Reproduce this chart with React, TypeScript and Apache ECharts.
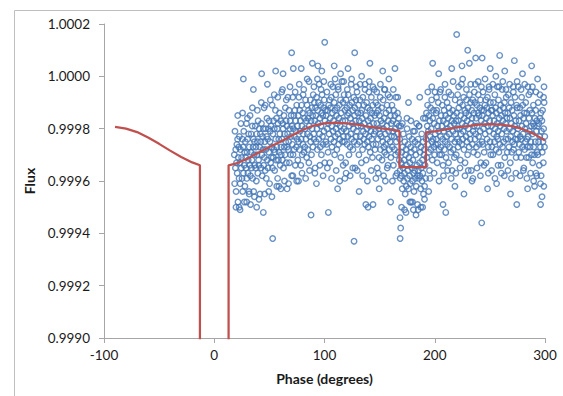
import React, { useEffect, useRef } from "react";
import * as echarts from "echarts";

// Observed phase (degrees) and relative flux
const phase = [
18.2,18.5,18.8,19.2,19.5,19.8,20.2,20.5,20.8,21.2,21.5,21.8,22.2,22.5,22.8,
23.2,23.5,23.8,24.2,24.5,24.8,25.2,25.5,25.8,26.2,26.5,26.8,27.2,27.5,27.8,
28.2,28.5,28.8,29.2,29.5,29.8,30.2,30.5,30.8,31.2,31.5,31.8,32.2,32.5,32.8,
33.2,33.5,33.8,34.2,34.5,34.8,35.2,35.5,35.8,36.2,36.5,36.8,37.2,37.5,37.8,
38.2,38.5,38.8,39.2,39.5,39.8,40.2,40.5,40.8,41.2,41.5,41.8,42.2,42.5,42.8,
43.2,43.5,43.8,44.2,44.5,44.8,45.2,45.5,45.8,46.2,46.5,46.8,47.2,47.5,47.8,
48.2,48.5,48.8,49.2,49.5,49.8,50.2,50.5,50.8,51.2,51.5,51.8,52.2,52.5,52.8,
53.2,53.5,53.8,54.2,54.5,54.8,55.2,55.5,55.8,56.2,56.5,56.8,57.2,57.5,57.8,
58.2,58.5,58.8,59.2,59.5,59.8,60.2,60.5,60.8,61.2,61.5,61.8,62.2,62.5,62.8,
63.2,63.5,63.8,64.2,64.5,64.8,65.2,65.5,65.8,66.2,66.5,66.8,67.2,67.5,67.8,
68.2,68.5,68.8,69.2,69.5,69.8,70.2,70.5,70.8,71.2,71.5,71.8,72.2,72.5,72.8,
73.2,73.5,73.8,74.2,74.5,74.8,75.2,75.5,75.8,76.2,76.5,76.8,77.2,77.5,77.8,
78.2,78.5,78.8,79.2,79.5,79.8,80.2,80.5,80.8,81.2,81.5,81.8,82.2,82.5,82.8,
83.2,83.5,83.8,84.2,84.5,84.8,85.2,85.5,85.8,86.2,86.5,86.8,87.2,87.5,87.8,
88.2,88.5,88.8,89.2,89.5,89.8,90.2,90.5,90.8,91.2,91.5,91.8,92.2,92.5,92.8,
93.2,93.5,93.8,94.2,94.5,94.8,95.2,95.5,95.8,96.2,96.5,96.8,97.2,97.5,97.8,
98.2,98.5,98.8,99.2,99.5,99.8,100.2,100.5,100.8,101.2,101.5,101.8,102.2,102.5,102.8,
103.2,103.5,103.8,104.2,104.5,104.8,105.2,105.5,105.8,106.2,106.5,106.8,107.2,107.5,107.8,
108.2,108.5,108.8,109.2,109.5,109.8,110.2,110.5,110.8,111.2,111.5,111.8,112.2,112.5,112.8,
113.2,113.5,113.8,114.2,114.5,114.8,115.2,115.5,115.8,116.2,116.5,116.8,117.2,117.5,117.8,
118.2,118.5,118.8,119.2,119.5,119.8,120.2,120.5,120.8,121.2,121.5,121.8,122.2,122.5,122.8,
123.2,123.5,123.8,124.2,124.5,124.8,125.2,125.5,125.8,126.2,126.5,126.8,127.2,127.5,127.8,
128.2,128.5,128.8,129.2,129.5,129.8,130.2,130.5,130.8,131.2,131.5,131.8,132.2,132.5,132.8,
133.2,133.5,133.8,134.2,134.5,134.8,135.2,135.5,135.8,136.2,136.5,136.8,137.2,137.5,137.8,
138.2,138.5,138.8,139.2,139.5,139.8,140.2,140.5,140.8,141.2,141.5,141.8,142.2,142.5,142.8,
143.2,143.5,143.8,144.2,144.5,144.8,145.2,145.5,145.8,146.2,146.5,146.8,147.2,147.5,147.8,
148.2,148.5,148.8,149.2,149.5,149.8,150.2,150.5,150.8,151.2,151.5,151.8,152.2,152.5,152.8,
153.2,153.5,153.8,154.2,154.5,154.8,155.2,155.5,155.8,156.2,156.5,156.8,157.2,157.5,157.8,
158.2,158.5,158.8,159.2,159.5,159.8,160.2,160.5,160.8,161.2,161.5,161.8,162.2,162.5,162.8,
163.2,163.5,163.8,164.2,164.5,164.8,165.2,165.5,165.8,166.2,166.5,166.8,167.2,167.5,167.8,
168.2,168.5,168.8,169.2,169.5,169.8,170.2,170.5,170.8,171.2,171.5,171.8,172.2,172.5,172.8,
173.2,173.5,173.8,174.2,174.5,174.8,175.2,175.5,175.8,176.2,176.5,176.8,177.2,177.5,177.8,
178.2,178.5,178.8,179.2,179.5,179.8,180.2,180.5,180.8,181.2,181.5,181.8,182.2,182.5,182.8,
183.2,183.5,183.8,184.2,184.5,184.8,185.2,185.5,185.8,186.2,186.5,186.8,187.2,187.5,187.8,
188.2,188.5,188.8,189.2,189.5,189.8,190.2,190.5,190.8,191.2,191.5,191.8,192.2,192.5,192.8,
193.2,193.5,193.8,194.2,194.5,194.8,195.2,195.5,195.8,196.2,196.5,196.8,197.2,197.5,197.8,
198.2,198.5,198.8,199.2,199.5,199.8,200.2,200.5,200.8,201.2,201.5,201.8,202.2,202.5,202.8,
203.2,203.5,203.8,204.2,204.5,204.8,205.2,205.5,205.8,206.2,206.5,206.8,207.2,207.5,207.8,
208.2,208.5,208.8,209.2,209.5,209.8,210.2,210.5,210.8,211.2,211.5,211.8,212.2,212.5,212.8,
213.2,213.5,213.8,214.2,214.5,214.8,215.2,215.5,215.8,216.2,216.5,216.8,217.2,217.5,217.8,
218.2,218.5,218.8,219.2,219.5,219.8,220.2,220.5,220.8,221.2,221.5,221.8,222.2,222.5,222.8,
223.2,223.5,223.8,224.2,224.5,224.8,225.2,225.5,225.8,226.2,226.5,226.8,227.2,227.5,227.8,
228.2,228.5,228.8,229.2,229.5,229.8,230.2,230.5,230.8,231.2,231.5,231.8,232.2,232.5,232.8,
233.2,233.5,233.8,234.2,234.5,234.8,235.2,235.5,235.8,236.2,236.5,236.8,237.2,237.5,237.8,
238.2,238.5,238.8,239.2,239.5,239.8,240.2,240.5,240.8,241.2,241.5,241.8,242.2,242.5,242.8,
243.2,243.5,243.8,244.2,244.5,244.8,245.2,245.5,245.8,246.2,246.5,246.8,247.2,247.5,247.8,
248.2,248.5,248.8,249.2,249.5,249.8,250.2,250.5,250.8,251.2,251.5,251.8,252.2,252.5,252.8,
253.2,253.5,253.8,254.2,254.5,254.8,255.2,255.5,255.8,256.2,256.5,256.8,257.2,257.5,257.8,
258.2,258.5,258.8,259.2,259.5,259.8,260.2,260.5,260.8,261.2,261.5,261.8,262.2,262.5,262.8,
263.2,263.5,263.8,264.2,264.5,264.8,265.2,265.5,265.8,266.2,266.5,266.8,267.2,267.5,267.8,
268.2,268.5,268.8,269.2,269.5,269.8,270.2,270.5,270.8,271.2,271.5,271.8,272.2,272.5,272.8,
273.2,273.5,273.8,274.2,274.5,274.8,275.2,275.5,275.8,276.2,276.5,276.8,277.2,277.5,277.8,
278.2,278.5,278.8,279.2,279.5,279.8,280.2,280.5,280.8,281.2,281.5,281.8,282.2,282.5,282.8,
283.2,283.5,283.8,284.2,284.5,284.8,285.2,285.5,285.8,286.2,286.5,286.8,287.2,287.5,287.8,
288.2,288.5,288.8,289.2,289.5,289.8,290.2,290.5,290.8,291.2,291.5,291.8,292.2,292.5,292.8,
293.2,293.5,293.8,294.2,294.5,294.8,295.2,295.5,295.8,296.2,296.5,296.8,297.2,297.5,297.8,
298.2,298.5,298.8,299.2,299.5,299.8
];

const flux = [
0.99970,0.99959,0.99979,0.99965,0.99972,0.99956,0.99967,0.99974,0.99963,0.99976,0.99952,0.99969,0.99973,0.99961,0.99977,
0.99967,0.99959,0.99972,0.99982,0.99965,0.99969,0.99961,0.99976,0.99956,0.99973,0.99963,0.99979,0.99966,0.99971,0.99958,
0.99975,0.99969,0.99965,0.99982,0.99961,0.99971,0.99976,0.99963,0.99968,0.99978,0.99956,0.99973,0.99966,0.99985,0.99962,
0.99971,0.99978,0.99965,0.99968,0.99981,0.99961,0.99973,0.99976,0.99956,0.99970,0.99975,0.99966,0.99981,0.99965,0.99973,
0.99960,0.99978,0.99970,0.99975,0.99963,0.99983,0.99968,0.99966,0.99980,0.99973,0.99955,0.99978,0.99975,0.99965,0.99982,
0.99970,0.99962,0.99977,0.99972,0.99980,0.99966,0.99988,0.99969,0.99975,0.99964,0.99980,0.99972,0.99961,0.99977,0.99984,
0.99968,0.99976,0.99965,0.99980,0.99971,0.99983,0.99959,0.99975,0.99979,0.99967,0.99981,0.99969,0.99973,0.99989,0.99965,
0.99978,0.99969,0.99983,0.99972,0.99980,0.99964,0.99971,0.99987,0.99976,0.99968,0.99984,0.99973,0.99980,0.99961,0.99982,
0.99968,0.99976,0.99971,0.99986,0.99978,0.99966,0.99983,0.99973,0.99970,0.99994,0.99976,0.99968,0.99982,0.99980,0.99965,
0.99985,0.99973,0.99978,0.99970,0.99988,0.99975,0.99983,0.99967,0.99981,0.99973,0.99978,0.99992,0.99972,0.99975,0.99987,
0.99967,0.99980,0.99983,0.99970,0.99977,0.99985,0.99962,0.99981,0.99974,0.99992,0.99970,0.99980,0.99985,0.99972,0.99977,
0.99987,0.99966,0.99983,0.99979,0.99973,0.99989,0.99976,0.99981,0.99968,0.99985,0.99975,0.99992,0.99972,0.99987,0.99979,
0.99983,0.99966,0.99976,0.99989,0.99981,0.99970,0.99986,0.99974,0.99978,0.99995,0.99971,0.99984,0.99973,0.99980,0.99991,
0.99976,0.99983,0.99969,0.99989,0.99978,0.99972,0.99984,0.99987,0.99967,0.99981,0.99986,0.99977,0.99991,0.99975,0.99983,
0.99970,0.99988,0.99980,0.99985,0.99973,0.99993,0.99978,0.99976,0.99990,0.99983,0.99965,0.99988,0.99985,0.99975,0.99992,
0.99980,0.99972,0.99987,0.99982,0.99990,0.99976,0.99997,0.99978,0.99984,0.99973,0.99989,0.99981,0.99970,0.99986,0.99993,
0.99977,0.99985,0.99974,0.99988,0.99979,0.99991,0.99967,0.99983,0.99987,0.99975,0.99985,0.99974,0.99994,0.99980,0.99987,
0.99971,0.99982,0.99989,0.99978,0.99991,0.99967,0.99984,0.99988,0.99976,0.99992,0.99981,0.99973,0.99986,0.99996,0.99979,
0.99983,0.99975,0.99990,0.99970,0.99987,0.99977,0.99993,0.99980,0.99985,0.99972,0.99988,0.99982,0.99978,0.99995,0.99974,
0.99984,0.99989,0.99976,0.99981,0.99991,0.99969,0.99986,0.99979,0.99998,0.99975,0.99983,0.99990,0.99977,0.99980,0.99993,
0.99975,0.99987,0.99983,0.99967,0.99991,0.99979,0.99988,0.99974,0.99985,0.99977,0.99993,0.99986,0.99970,0.99981,0.99989,
0.99973,0.99984,0.99978,0.99997,0.99976,0.99990,0.99982,0.99987,0.99972,0.99980,0.99992,0.99975,0.99985,0.99988,0.99965,
0.99983,0.99991,0.99977,0.99979,0.99994,0.99974,0.99986,0.99981,0.99989,0.99970,0.99983,0.99975,0.99991,0.99977,0.99986,
0.99981,0.99967,0.99987,0.99984,0.99972,0.99992,0.99979,0.99976,0.99989,0.99982,0.99974,0.99997,0.99978,0.99985,0.99968,
0.99990,0.99980,0.99975,0.99988,0.99983,0.99973,0.99994,0.99977,0.99981,0.99987,0.99971,0.99984,0.99979,0.99992,0.99976,
0.99986,0.99969,0.99989,0.99974,0.99982,0.99978,0.99995,0.99985,0.99972,0.99979,0.99990,0.99974,0.99986,0.99982,0.99965,
0.99989,0.99976,0.99987,0.99980,0.99969,0.99985,0.99978,0.99992,0.99972,0.99983,0.99977,0.99988,0.99968,0.99982,0.99975,
0.99991,0.99980,0.99973,0.99984,0.99971,0.99995,0.99978,0.99974,0.99986,0.99970,0.99981,0.99989,0.99976,0.99966,0.99983,
0.99979,0.99987,0.99972,0.99992,0.99975,0.99985,0.99969,0.99982,0.99977,0.99989,0.99973,0.99979,0.99983,0.99966,0.99987,
0.99977,0.99972,0.99985,0.99980,0.99970,0.99992,0.99975,0.99982,0.99963,0.99986,0.99978,0.99971,0.99984,0.99981,0.99968,
0.99976,0.99964,0.99961,0.99981,0.99967,0.99962,0.99971,0.99957,0.99973,0.99965,0.99978,0.99960,0.99968,0.99963,0.99975,
0.99955,0.99970,0.99972,0.99958,0.99966,0.99984,0.99961,0.99964,0.99974,0.99957,0.99969,0.99977,0.99962,0.99967,0.99959,
0.99973,0.99952,0.99971,0.99965,0.99976,0.99960,0.99968,0.99979,0.99963,0.99956,0.99972,0.99964,0.99975,0.99961,0.99970,
0.99958,0.99982,0.99966,0.99962,0.99974,0.99976,0.99964,0.99961,0.99981,0.99967,0.99962,0.99971,0.99957,0.99973,0.99965,
0.99978,0.99960,0.99968,0.99963,0.99975,0.99955,0.99970,0.99972,0.99958,0.99966,0.99984,0.99961,0.99976,0.99986,0.99969,
0.99981,0.99989,0.99974,0.99979,0.99971,0.99985,0.99964,0.99983,0.99977,0.99988,0.99972,0.99980,0.99991,0.99975,0.99968,
0.99984,0.99976,0.99987,0.99973,0.99982,0.99970,0.99994,0.99978,0.99974,0.99986,0.99976,0.99987,0.99967,0.99981,0.99974,
0.99990,0.99979,0.99972,0.99983,0.99970,0.99994,0.99977,0.99973,0.99985,0.99970,0.99981,0.99989,0.99976,0.99966,0.99983,
0.99979,0.99987,0.99972,0.99992,0.99975,0.99985,0.99969,0.99982,0.99977,0.99990,0.99974,0.99980,0.99984,0.99967,0.99988,
0.99978,0.99973,0.99986,0.99981,0.99971,0.99993,0.99976,0.99983,0.99964,0.99987,0.99979,0.99972,0.99985,0.99982,0.99969,
0.99975,0.99991,0.99978,0.99983,0.99970,0.99986,0.99980,0.99976,0.99993,0.99973,0.99983,0.99988,0.99975,0.99980,0.99990,
0.99968,0.99985,0.99978,0.99997,0.99974,0.99982,0.99989,0.99976,0.99979,0.99992,0.99972,0.99984,0.99987,0.99967,0.99981,
0.99986,0.99977,0.99991,0.99975,0.99983,0.99970,0.99988,0.99980,0.99985,0.99973,0.99993,0.99978,0.99976,0.99990,0.99982,
0.99964,0.99987,0.99984,0.99974,0.99991,0.99979,0.99971,0.99986,0.99981,0.99990,0.99976,0.99997,0.99978,0.99984,0.99973,
0.99989,0.99981,0.99970,0.99986,0.99993,0.99977,0.99985,0.99974,0.99988,0.99979,0.99991,0.99967,0.99983,0.99987,0.99975,
0.99985,0.99974,0.99994,0.99980,0.99987,0.99971,0.99982,0.99989,0.99978,0.99991,0.99967,0.99984,0.99988,0.99976,0.99992,
0.99981,0.99973,0.99986,0.99996,0.99979,0.99983,0.99975,0.99990,0.99970,0.99987,0.99981,0.99973,0.99987,0.99985,0.99970,
0.99990,0.99978,0.99983,0.99975,0.99993,0.99980,0.99988,0.99972,0.99986,0.99977,0.99982,0.99996,0.99976,0.99979,0.99991,
0.99971,0.99984,0.99987,0.99974,0.99981,0.99989,0.99966,0.99985,0.99978,0.99995,0.99973,0.99983,0.99988,0.99975,0.99980,
0.99990,0.99969,0.99986,0.99982,0.99976,0.99992,0.99979,0.99984,0.99971,0.99986,0.99976,0.99993,0.99973,0.99988,0.99980,
0.99984,0.99967,0.99977,0.99990,0.99982,0.99971,0.99987,0.99975,0.99979,0.99996,0.99972,0.99985,0.99974,0.99981,0.99992,
0.99976,0.99983,0.99969,0.99989,0.99978,0.99988,0.99976,0.99980,0.99996,0.99971,0.99983,0.99974,0.99988,0.99977,0.99985,
0.99969,0.99976,0.99992,0.99981,0.99973,0.99989,0.99978,0.99984,0.99965,0.99986,0.99972,0.99980,0.99975,0.99990,0.99982,
0.99969,0.99986,0.99976,0.99973,0.99996,0.99977,0.99969,0.99984,0.99979,0.99987,0.99973,0.99994,0.99975,0.99981,0.99970,
0.99986,0.99978,0.99967,0.99982,0.99989,0.99973,0.99981,0.99970,0.99984,0.99975,0.99987,0.99963,0.99979,0.99983,0.99971,
0.99981,0.99970,0.99990,0.99975,0.99982,0.99966,0.99977,0.99984,0.99973,0.99986,0.99962,0.99979,0.99983,0.99971,0.99987,
0.99975,0.99967,0.99980,0.99990,0.99973,0.99977
];

// Scattered outlying observations
const extraPhase = [
219.9,100.2,127.4,70.2,71.7,229.9,198.1,258.9,272.2,237.1,243.0,231.4,215.4,89.0,94.0,26.4,43.0,55.7,
87.8,103.5,126.8,168.5,169.1,168.6,242.6,183.0,189.0,185.0,274.4,207.5,210.0,137.5,139.5,144.0,
19.7,23.4,29.4,38.5,44.5,53.0,296.0,160.0,
35.5,48.2,62.4,78.9,84.3,97.6,108.8,114.6,121.3,133.7,141.2,152.8,158.4,163.9,176.2,186.4,203.6,224.7,
250.3,263.5,279.6,287.9,293.3,299.1,
31.7,58.6,66.1,76.4,92.7,111.9,118.5,131.4,149.6,155.2,172.6,179.8,194.5,218.3,226.5,233.8,247.9,256.1,
268.7,284.2,290.5,297.3
];
const extraFlux = [
1.00016,1.00013,1.00009,1.00009,1.00003,1.00010,1.00005,1.00008,1.00006,1.00007,1.00007,1.00005,1.00003,1.00005,1.00004,0.99999,1.00001,1.00002,
0.99947,0.99948,0.99937,0.99946,0.99942,0.99938,0.99944,0.99947,0.99950,0.99949,0.99951,0.99951,0.99948,0.99951,0.99950,0.99951,
0.99950,0.99949,0.99952,0.99950,0.99948,0.99938,0.99951,0.99952,
0.99995,0.99997,1.00001,1.00003,0.99999,1.00002,1.00004,1.00001,1.00003,1.00000,1.00005,1.00002,0.99999,1.00003,0.99990,0.99992,1.00001,1.00004,
1.00003,1.00002,1.00001,1.00004,0.99999,0.99996,
0.99955,0.99958,0.99957,0.99960,0.99959,0.99957,0.99961,0.99956,0.99957,0.99960,0.99949,0.99952,0.99956,0.99958,0.99955,0.99960,0.99957,0.99959,
0.99955,0.99957,0.99958,0.99954
];

// Observations in the upper and lower edges of the band
const tailPhase = [
21.3,25.7,30.1,34.6,39.1,42.7,46.3,50.9,54.4,57.6,61.9,65.3,68.7,73.4,77.1,80.6,85.9,90.4,93.6,96.9,
99.4,105.7,109.6,112.3,117.4,120.7,124.6,128.9,132.3,136.7,140.6,143.9,147.4,150.7,154.3,157.6,162.4,166.4,
170.6,174.9,178.3,181.7,185.6,189.6,193.7,197.3,201.6,205.4,209.3,212.7,216.6,221.6,225.3,228.7,232.6,235.9,
239.4,242.3,245.6,249.3,252.7,255.4,258.3,261.7,264.6,267.9,271.3,274.7,278.3,281.6,285.3,288.6,291.8,295.4,298.7,
22.6,27.3,32.9,36.4,40.6,45.7,49.4,52.3,56.7,60.4,63.7,67.4,71.3,74.8,79.6,82.9,86.4,91.3,95.8,98.7,
102.6,106.4,110.6,113.8,116.9,119.6,123.3,125.6,129.7,134.6,138.9,142.4,146.6,148.9,153.6,156.9,161.6,164.7,
169.9,173.9,177.4,180.6,184.4,187.3,190.7,195.6,199.4,203.9,207.9,211.6,214.9,219.1,222.9,227.4,230.4,234.6,
238.3,241.4,244.7,248.6,251.6,254.6,257.4,260.4,263.1,266.4,269.6,273.6,277.4,280.4,283.6,286.9,289.7,292.6,295.9,298.9
];
const tailFlux = [
0.99985,0.99986,0.99984,0.99988,0.99987,0.99990,0.99989,0.99991,0.99993,0.99992,0.99995,0.99991,0.99996,0.99994,0.99997,0.99993,0.99998,0.99996,0.99999,0.99995,
0.99998,0.99997,0.99999,0.99996,0.99998,0.99995,0.99999,0.99996,0.99997,0.99995,0.99998,0.99996,0.99994,0.99997,0.99995,0.99993,0.99995,0.99992,
0.99982,0.99980,0.99983,0.99979,0.99981,0.99984,0.99994,0.99996,0.99992,0.99995,0.99997,0.99994,0.99998,0.99996,0.99999,0.99995,0.99997,0.99994,
0.99998,0.99996,0.99999,0.99995,0.99997,1.00000,0.99996,0.99998,0.99995,0.99997,0.99994,0.99998,0.99995,0.99997,0.99993,0.99996,0.99994,0.99993,0.99992,
0.99950,0.99952,0.99951,0.99954,0.99953,0.99955,0.99956,0.99954,0.99958,0.99957,0.99960,0.99959,0.99962,0.99960,0.99963,0.99961,0.99964,0.99963,0.99966,0.99962,
0.99965,0.99961,0.99964,0.99960,0.99966,0.99963,0.99962,0.99965,0.99964,0.99962,0.99960,0.99964,0.99961,0.99963,0.99962,0.99965,0.99960,0.99962,
0.99950,0.99948,0.99952,0.99949,0.99951,0.99950,0.99953,0.99961,0.99963,0.99960,0.99962,0.99964,0.99961,0.99963,0.99965,0.99962,0.99964,0.99961,
0.99965,0.99962,0.99966,0.99963,0.99964,0.99961,0.99966,0.99963,0.99962,0.99964,0.99961,0.99963,0.99962,0.99964,0.99961,0.99963,0.99960,0.99962,0.99959,0.99958
];

// Model light curve
const modelPhase = [-90,-80,-70,-60,-50,-40,-30,-20,-13,-13,13,13,20,30,40,50,60,70,80,90,100,110,120,130,140,150,160,168,168,192,192,200,210,220,230,240,250,260,270,280,290,300];
const modelFlux = [0.999807,0.9998,0.999787,0.999766,0.999742,0.999716,0.999692,0.999671,0.99966,0.998,0.998,0.99966,0.999667,0.999685,0.999708,0.99973,0.99975,0.999773,0.999795,0.999812,0.99982,0.999823,0.99982,0.999815,0.999808,0.999802,0.999796,0.999792,0.999653,0.999653,0.999786,0.99979,0.999797,0.999805,0.99981,0.999815,0.999817,0.999815,0.99981,0.999798,0.99978,0.999755];

const FONT = "Lato";
const AXIS_GRAY = "#a6a6a6";
const TEXT = "#1a1a1a";

export default function App() {
  const ref = useRef<HTMLDivElement>(null);
  useEffect(() => {
    if (!ref.current) return;
    const chart = echarts.init(ref.current, null, { renderer: "svg" });
    const points = phase
      .map((p, i) => [p, flux[i]])
      .concat(extraPhase.map((p, i) => [p, extraFlux[i]]))
      .concat(tailPhase.map((p, i) => [p, tailFlux[i]]));
    const model = modelPhase.map((p, i) => [p, modelFlux[i]]);
    chart.setOption({
      animation: false,
      backgroundColor: "#ffffff",
      textStyle: { fontFamily: FONT },
      graphic: [
        {
          type: "rect",
          silent: true,
          z: -10,
          shape: { x: 14.5, y: 10.5, width: 700, height: 500 },
          style: { fill: "none", stroke: "#bfbfbf", lineWidth: 1 },
        },
      ],
      grid: { left: 104, right: 18, top: 24, bottom: 58, containLabel: false },
      xAxis: {
        type: "value",
        min: -100,
        max: 300,
        interval: 100,
        axisLine: { onZero: false, lineStyle: { color: AXIS_GRAY, width: 1 } },
        axisTick: { show: true, length: 5, lineStyle: { color: AXIS_GRAY } },
        splitLine: { show: false },
        axisLabel: { fontSize: 13.5, color: TEXT, margin: 10, fontFamily: FONT },
        name: "Phase (degrees)",
        nameLocation: "middle",
        nameGap: 33,
        nameTextStyle: { fontWeight: "bold", fontSize: 14, color: TEXT, fontFamily: FONT },
      },
      yAxis: {
        type: "value",
        min: 0.999,
        max: 1.0002,
        interval: 0.0002,
        axisLine: { show: true, onZero: false, lineStyle: { color: AXIS_GRAY, width: 1 } },
        axisTick: { show: true, length: 5, lineStyle: { color: AXIS_GRAY } },
        splitLine: { show: false },
        axisLabel: {
          fontSize: 13.5,
          color: TEXT,
          margin: 14,
          fontFamily: FONT,
          formatter: (v: number) => v.toFixed(4),
        },
        name: "Flux",
        nameLocation: "middle",
        nameGap: 61,
        nameRotate: 90,
        nameTextStyle: { fontWeight: "bold", fontSize: 14, color: TEXT, fontFamily: FONT },
      },
      series: [
        {
          type: "scatter",
          data: points,
          symbol: "circle",
          symbolSize: 5.5,
          itemStyle: { color: "rgba(0,0,0,0)", borderColor: "#4275b6", borderWidth: 1.4 },
          z: 2,
          large: false,
          progressive: 0,
        },
        {
          type: "line",
          data: model,
          showSymbol: false,
          symbol: "none",
          clip: true,
          lineStyle: { color: "#c0504d", width: 2.25 },
          z: 3,
        },
      ],
    });
    return () => chart.dispose();
  }, []);
  return (
    <div
      ref={ref}
      style={{ position: "absolute", left: 0, top: 0, width: 563, height: 396 }}
    />
  );
}
